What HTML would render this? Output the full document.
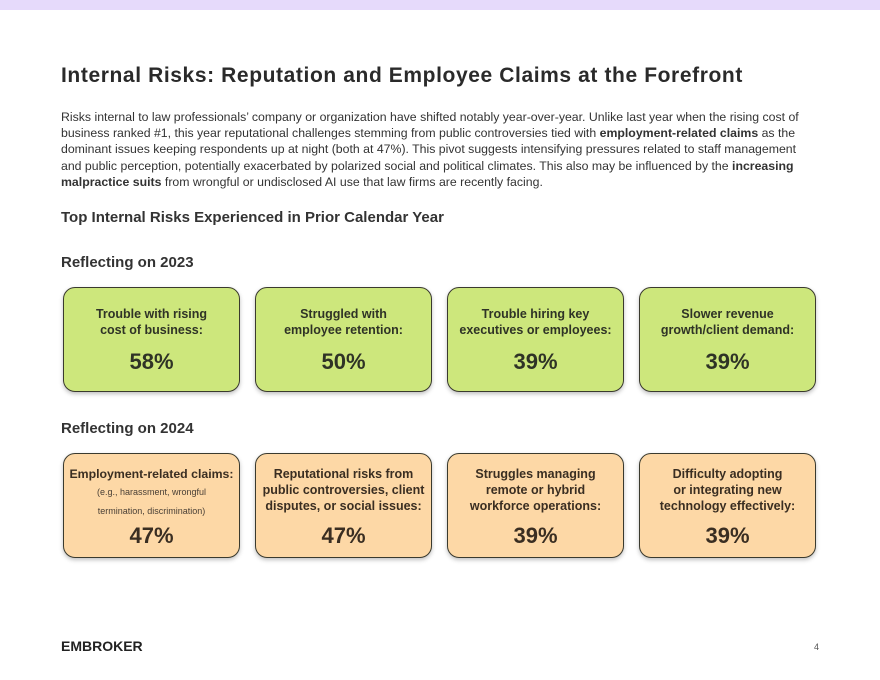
<!DOCTYPE html>
<html><head><meta charset="utf-8"><style>
*{margin:0;padding:0;box-sizing:border-box}
body{width:880px;height:680px;background:#fff;font-family:"Liberation Sans",sans-serif;color:#2b2b2b;position:relative;overflow:hidden}
.topbar{position:absolute;left:0;top:0;width:880px;height:10px;background:#e6dafb}
h1{position:absolute;left:61px;top:64px;font-size:21px;font-weight:bold;color:#2a2a2a;letter-spacing:0.6px;white-space:nowrap}
.intro{position:absolute;left:61px;top:109px;width:754px;font-size:12.3px;line-height:16.2px;color:#333}
h2{position:absolute;left:61px;font-size:15px;font-weight:bold;color:#333}
.card{position:absolute;width:177px;height:105px;border:1.5px solid #3a3a2e;border-radius:12px;box-shadow:0 2px 4px rgba(0,0,0,.25);text-align:center}
.g{background:#cde77c}
.o{background:#fdd8a6}
.lbl{font-size:12.5px;font-weight:bold;line-height:16px;color:#2f3326;margin-top:18px}
.o .lbl{margin-top:12px;color:#3a2e22}
.sub{font-size:9px;line-height:19px;color:#4a4036;margin-top:1px}
.val{font-size:22px;font-weight:bold;color:#2f3326;position:absolute;left:0;right:0;top:61px}
.o .val{top:69px;color:#3a2e22}
.logo{position:absolute;left:61px;top:638px;font-size:14px;font-weight:900;letter-spacing:0px;color:#222}
.pg{position:absolute;left:814px;top:642px;font-size:9px;color:#555}
</style></head><body>
<div class="topbar"></div>
<h1>Internal Risks: Reputation and Employee Claims at the Forefront</h1>
<p class="intro">Risks internal to law professionals’ company or organization have shifted notably year-over-year. Unlike last year when the rising cost of business ranked #1, this year reputational challenges stemming from public controversies tied with <b>employment-related claims</b> as the dominant issues keeping respondents up at night (both at 47%). This pivot suggests intensifying pressures related to staff management and public perception, potentially exacerbated by polarized social and political climates. This also may be influenced by the <b>increasing malpractice suits</b> from wrongful or undisclosed AI use that law firms are recently facing.</p>
<h2 style="top:209px">Top Internal Risks Experienced in Prior Calendar Year</h2>
<h2 style="top:254px">Reflecting on 2023</h2>
<h2 style="top:420px">Reflecting on 2024</h2>

<div class="card g" style="left:63px;top:287px"><div class="lbl">Trouble with rising<br>cost of business:</div><div class="val">58%</div></div>
<div class="card g" style="left:255px;top:287px"><div class="lbl">Struggled with<br>employee retention:</div><div class="val">50%</div></div>
<div class="card g" style="left:447px;top:287px"><div class="lbl">Trouble hiring key<br>executives or employees:</div><div class="val">39%</div></div>
<div class="card g" style="left:639px;top:287px"><div class="lbl">Slower revenue<br>growth/client demand:</div><div class="val">39%</div></div>

<div class="card o" style="left:63px;top:453px"><div class="lbl" style="font-size:12.3px">Employment-related claims:</div><div class="sub">(e.g., harassment, wrongful<br>termination, discrimination)</div><div class="val">47%</div></div>
<div class="card o" style="left:255px;top:453px"><div class="lbl">Reputational risks from<br>public controversies, client<br>disputes, or social issues:</div><div class="val">47%</div></div>
<div class="card o" style="left:447px;top:453px"><div class="lbl">Struggles managing<br>remote or hybrid<br>workforce operations:</div><div class="val">39%</div></div>
<div class="card o" style="left:639px;top:453px"><div class="lbl">Difficulty adopting<br>or integrating new<br>technology effectively:</div><div class="val">39%</div></div>

<div class="logo">EMBROKER</div>
<div class="pg">4</div>
</body></html>
